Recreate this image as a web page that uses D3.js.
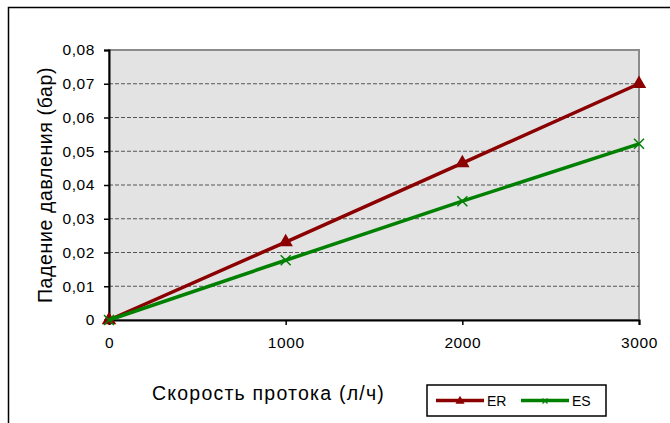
<!DOCTYPE html>
<html><head><meta charset="utf-8">
<script src="https://cdn.jsdelivr.net/npm/d3@7"></script>
<style>body{margin:0;background:#fff}svg{display:block}</style>
</head><body><svg id="c" width="670" height="423"></svg>
<script>
const xValues = [0, 1000, 2000, 3000];
const erValues = [0, 0.0231, 0.0465, 0.0700];
const esValues = [0, 0.0177, 0.0352, 0.0522];
const xTicks = [0, 1000, 2000, 3000];
const yTicks = [0, 0.01, 0.02, 0.03, 0.04, 0.05, 0.06, 0.07, 0.08];
const seriesNames = ["ER", "ES"];

const svg = d3.select("#c");
const font = "'Liberation Sans', Arial, sans-serif";
const L = 109, R = 639, T = 50, B = 320;
const x = d3.scaleLinear().domain([0, 3000]).range([L, R]);
const y = d3.scaleLinear().domain([0, 0.08]).range([B, T]);
const fmt = d => d === 0 ? "0" : d3.format(".2f")(d).replace(".", ",");

function fitWidth(sel, target) {
  const n = sel.text().length;
  const w = sel.node().getComputedTextLength();
  sel.attr("letter-spacing", ((target - w) / n).toFixed(2));
}

// outer frame
svg.append("path").attr("d", "M8.5,423 L8.5,7.5 L670,7.5").attr("fill","none").attr("stroke","#000").attr("stroke-width",1.5);

// plot area
svg.append("rect").attr("x", L).attr("y", T).attr("width", R-L).attr("height", B-T)
  .attr("fill", "#e3e3e3").attr("stroke", "#8c8c8c").attr("stroke-width", 2);

// gridlines
svg.append("g").selectAll("line").data(yTicks.filter(d => d > 0 && d < 0.08)).join("line")
  .attr("x1", L).attr("x2", R).attr("y1", d => y(d)).attr("y2", d => y(d))
  .attr("stroke", "#555").attr("stroke-width", 1).attr("stroke-dasharray", "4,2");

// axes
const yAxis = svg.append("g").attr("transform", `translate(${L},0)`)
  .call(d3.axisLeft(y).tickValues(yTicks).tickFormat(fmt).tickSize(5).tickPadding(9));
const xAxis = svg.append("g").attr("transform", `translate(0,${B})`)
  .call(d3.axisBottom(x).tickValues(xTicks).tickFormat(d3.format("d")).tickSize(5).tickPadding(12));
[yAxis, xAxis].forEach(a => {
  a.attr("font-size", null).attr("font-family", null);
  a.select(".domain").attr("stroke", "#000").attr("stroke-width", 2);
  a.selectAll(".tick line").attr("stroke", "#000").attr("stroke-width", 1.5);
  a.selectAll("text").attr("font-family", font).attr("font-size", 15.5)
    .attr("letter-spacing", 0.6).attr("fill", "#000");
});

// axis titles
const xt = svg.append("text").attr("x", 268.5).attr("y", 400).attr("text-anchor", "middle")
  .attr("font-family", font).attr("font-size", 19.5).text("Скорость протока (л/ч)");
fitWidth(xt, 233);
const yt = svg.append("text").attr("transform", `translate(52,185) rotate(-90)`).attr("text-anchor", "middle")
  .attr("font-family", font).attr("font-size", 19.5).text("Падение давления (бар)");
fitWidth(yt, 236);

const colors = ["#8b0000", "#008000"];
const data = [erValues, esValues];
const line = d3.line().x((d, i) => x(xValues[i])).y(d => y(d));
const tri = d3.symbol().type(d3.symbolTriangle).size(90);
const triSmall = d3.symbol().type(d3.symbolTriangle).size(36);

data.forEach((vals, k) => {
  svg.append("path").datum(vals).attr("d", line).attr("fill", "none")
    .attr("stroke", colors[k]).attr("stroke-width", 3.5);
  const g = svg.append("g");
  vals.forEach((v, i) => {
    const cx = x(xValues[i]), cy = y(v);
    if (k === 0) {
      g.append("path").attr("d", tri).attr("transform", `translate(${cx},${cy})`).attr("fill", colors[0]);
    } else {
      g.append("path").attr("d", `M${cx-5},${cy-5}L${cx+5},${cy+5}M${cx-5},${cy+5}L${cx+5},${cy-5}`)
        .attr("stroke", colors[1]).attr("stroke-width", 1.5);
    }
  });
});

// legend
const lg = svg.append("g");
lg.append("rect").attr("x", 427).attr("y", 385).attr("width", 179).attr("height", 31)
  .attr("fill", "#fff").attr("stroke", "#000").attr("stroke-width", 1.5);
const legX = [436, 521];
seriesNames.forEach((n, k) => {
  lg.append("line").attr("x1", legX[k]).attr("x2", legX[k] + 48).attr("y1", 400.5).attr("y2", 400.5)
    .attr("stroke", colors[k]).attr("stroke-width", 3.5);
  const mx = legX[k] + 24, my = 401;
  if (k === 0) lg.append("path").attr("d", triSmall).attr("transform", `translate(${mx},${my})`).attr("fill", colors[0]);
  else lg.append("path").attr("d", `M${mx-2.5},${my-2.5}L${mx+2.5},${my+2.5}M${mx-2.5},${my+2.5}L${mx+2.5},${my-2.5}`)
      .attr("stroke", colors[1]).attr("stroke-width", 1.2);
  lg.append("text").attr("x", legX[k] + 51).attr("y", 405.5).attr("font-family", font)
    .attr("font-size", 14).text(n);
});
</script></body></html>
